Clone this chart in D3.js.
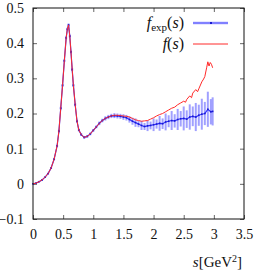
<!DOCTYPE html>
<html>
<head>
<meta charset="utf-8">
<script src="https://cdn.jsdelivr.net/npm/d3@7"></script>
<style>
  body { margin: 0; background: #fff; }
  svg { display: block; }
  text { font-family: "Liberation Serif", "DejaVu Serif", serif; fill: #111; }
</style>
</head>
<body>
<svg id="chart"></svg>
<script>
// experimental points f_exp(s) with errors
const sExp = [0, 0.05, 0.1, 0.15, 0.2, 0.25, 0.3, 0.35, 0.4, 0.43, 0.46, 0.49, 0.52, 0.55, 0.57, 0.59,
  0.61, 0.63, 0.65, 0.67, 0.7, 0.73, 0.76, 0.8, 0.85, 0.9, 0.95, 1.0, 1.05, 1.1, 1.15, 1.2, 1.25, 1.3,
  1.35, 1.4, 1.45, 1.5, 1.55, 1.6, 1.65, 1.7, 1.75, 1.8, 1.85, 1.9, 1.95, 2.0, 2.05, 2.1, 2.15, 2.2,
  2.25, 2.3, 2.35, 2.4, 2.45, 2.5, 2.55, 2.6, 2.65, 2.7, 2.75, 2.8, 2.85, 2.9, 2.95, 2.98];
const fExp = [0, 0.002, 0.006, 0.011, 0.019, 0.029, 0.045, 0.07, 0.108, 0.15, 0.215, 0.28, 0.35, 0.415, 0.44, 0.452,
  0.42, 0.375, 0.325, 0.28, 0.225, 0.178, 0.153, 0.14, 0.132, 0.135, 0.142, 0.152, 0.162, 0.172, 0.18, 0.186, 0.19, 0.193,
  0.194, 0.193, 0.192, 0.19, 0.188, 0.183, 0.178, 0.174, 0.17, 0.166, 0.163, 0.165, 0.166, 0.168, 0.17, 0.172, 0.171, 0.176,
  0.178, 0.18, 0.179, 0.183, 0.185, 0.186, 0.184, 0.19, 0.192, 0.19, 0.195, 0.198, 0.2, 0.212, 0.205, 0.206];
const errExp = [0.001, 0.001, 0.001, 0.002, 0.002, 0.002, 0.003, 0.003, 0.003, 0.004, 0.004, 0.004, 0.004, 0.004, 0.004, 0.004,
  0.004, 0.004, 0.004, 0.004, 0.004, 0.004, 0.004, 0.004, 0.004, 0.004, 0.004, 0.004, 0.004, 0.005, 0.005, 0.006, 0.006, 0.006,
  0.007, 0.007, 0.007, 0.008, 0.008, 0.009, 0.01, 0.012, 0.009, 0.013, 0.01, 0.015, 0.011, 0.018, 0.013, 0.021, 0.015, 0.024,
  0.017, 0.027, 0.019, 0.03, 0.022, 0.034, 0.025, 0.036, 0.028, 0.04, 0.03, 0.044, 0.033, 0.05, 0.036, 0.04];

// model curve f(s)
const sFit = [0, 0.05, 0.1, 0.15, 0.2, 0.25, 0.3, 0.35, 0.4, 0.43, 0.46, 0.49, 0.52, 0.55, 0.57, 0.59,
  0.61, 0.63, 0.65, 0.67, 0.7, 0.73, 0.76, 0.8, 0.85, 0.9, 0.95, 1.0, 1.05, 1.1, 1.15, 1.2, 1.25, 1.3,
  1.35, 1.4, 1.45, 1.5, 1.55, 1.6, 1.65, 1.7, 1.75, 1.8, 1.85, 1.9, 1.95, 2.0, 2.05, 2.1, 2.15, 2.2,
  2.25, 2.3, 2.35, 2.4, 2.45, 2.5, 2.53, 2.55, 2.6, 2.63, 2.65, 2.7, 2.73, 2.75, 2.8, 2.83, 2.85, 2.88,
  2.9, 2.92, 2.94, 2.96, 2.98];
const fFit = [0, 0.002, 0.006, 0.011, 0.019, 0.029, 0.045, 0.07, 0.108, 0.15, 0.215, 0.28, 0.35, 0.415, 0.44, 0.452,
  0.42, 0.375, 0.325, 0.28, 0.225, 0.178, 0.153, 0.14, 0.132, 0.135, 0.142, 0.152, 0.162, 0.172, 0.18, 0.186, 0.19, 0.193,
  0.195, 0.195, 0.194, 0.193, 0.192, 0.19, 0.186, 0.182, 0.18, 0.178, 0.179, 0.18, 0.184, 0.188, 0.193, 0.197, 0.2, 0.205,
  0.21, 0.215, 0.218, 0.225, 0.23, 0.235, 0.232, 0.24, 0.25, 0.245, 0.258, 0.268, 0.262, 0.27, 0.29, 0.298, 0.305, 0.33,
  0.347, 0.335, 0.345, 0.34, 0.33];

const xTicks = [0, 0.5, 1, 1.5, 2, 2.5, 3, 3.5];
const yTicks = [-0.1, 0, 0.1, 0.2, 0.3, 0.4, 0.5];

const width = 254;
const height = 272;
const marginLeft = 33;
const marginTop = 8;
const plotRight = 244;
const plotBottom = 219;

const svg = d3.select('#chart')
  .attr('width', width)
  .attr('height', height);

const x = d3.scaleLinear().domain([0, 3.5]).range([marginLeft, plotRight]);
const y = d3.scaleLinear().domain([-0.1, 0.5]).range([plotBottom, marginTop]);

const tickLen = 4;
const serif = '"Liberation Serif", "DejaVu Serif", serif';

// bottom + top ticks
svg.append('g')
  .attr('transform', `translate(0, ${plotBottom})`)
  .call(d3.axisBottom(x).tickValues(xTicks).tickSize(-tickLen).tickPadding(10).tickFormat(d3.format('')))
  .call(g => g.select('.domain').remove())
  .call(g => g.selectAll('line').attr('stroke', '#666'))
  .call(g => g.selectAll('text').attr('font-size', 14).attr('font-family', serif).attr('fill', '#111'));

svg.append('g')
  .attr('transform', `translate(0, ${marginTop})`)
  .call(d3.axisTop(x).tickValues(xTicks).tickSize(-tickLen).tickFormat(''))
  .call(g => g.select('.domain').remove())
  .call(g => g.selectAll('line').attr('stroke', '#666'));

// left + right ticks
svg.append('g')
  .attr('transform', `translate(${marginLeft}, 0)`)
  .call(d3.axisLeft(y).tickValues(yTicks).tickSize(-tickLen).tickPadding(9).tickFormat(d3.format('')))
  .call(g => g.select('.domain').remove())
  .call(g => g.selectAll('line').attr('stroke', '#666'))
  .call(g => g.selectAll('text').attr('font-size', 14).attr('font-family', serif).attr('fill', '#111'));

svg.append('g')
  .attr('transform', `translate(${plotRight}, 0)`)
  .call(d3.axisRight(y).tickValues(yTicks).tickSize(-tickLen).tickFormat(''))
  .call(g => g.select('.domain').remove())
  .call(g => g.selectAll('line').attr('stroke', '#666'));

// error bars
const expData = sExp.map((s, i) => ({ s, f: fExp[i], e: errExp[i] }));
svg.append('g')
  .attr('stroke', '#7878ff')
  .attr('stroke-opacity', 0.7)
  .attr('stroke-width', 2)
  .selectAll('line')
  .data(expData)
  .join('line')
  .attr('x1', d => x(d.s)).attr('x2', d => x(d.s))
  .attr('y1', d => y(d.f - d.e)).attr('y2', d => y(d.f + d.e));

// central line for f_exp
svg.append('path')
  .datum(expData)
  .attr('fill', 'none')
  .attr('stroke', '#3030ff')
  .attr('stroke-width', 1.2)
  .attr('d', d3.line().x(d => x(d.s)).y(d => y(d.f)));

svg.append('g')
  .attr('fill', '#1a1ad0')
  .selectAll('rect')
  .data(expData)
  .join('rect')
  .attr('x', d => x(d.s) - 0.8)
  .attr('y', d => y(d.f) - 0.8)
  .attr('width', 1.6)
  .attr('height', 1.6);

// model curve
const fitData = sFit.map((s, i) => ({ s, f: fFit[i] }));
svg.append('path')
  .datum(fitData)
  .attr('fill', 'none')
  .attr('stroke', '#ff2a2a')
  .attr('stroke-width', 1)
  .attr('d', d3.line().x(d => x(d.s)).y(d => y(d.f)));

// frame
svg.append('rect')
  .attr('x', marginLeft).attr('y', marginTop)
  .attr('width', plotRight - marginLeft).attr('height', plotBottom - marginTop)
  .attr('fill', 'none')
  .attr('stroke', '#111')
  .attr('stroke-width', 1);

// legend
const leg = svg.append('g').attr('font-size', 16);
const l1 = leg.append('text').attr('x', 184).attr('y', 28).attr('text-anchor', 'end');
l1.append('tspan').attr('font-style', 'italic').text('f');
l1.append('tspan').attr('font-size', 11).attr('dy', 3).text('exp');
l1.append('tspan').attr('dy', -3).text('(');
l1.append('tspan').attr('font-style', 'italic').text('s');
l1.append('tspan').text(')');

leg.append('line')
  .attr('x1', 193).attr('x2', 228).attr('y1', 23).attr('y2', 23)
  .attr('stroke', '#7878ff').attr('stroke-opacity', 0.7).attr('stroke-width', 2.5);
leg.append('line')
  .attr('x1', 193).attr('x2', 228).attr('y1', 23).attr('y2', 23)
  .attr('stroke', '#5050ff').attr('stroke-width', 0.8);
leg.append('rect')
  .attr('x', 210).attr('y', 22).attr('width', 2).attr('height', 2).attr('fill', '#1a1ad0');

const l2 = leg.append('text').attr('x', 184).attr('y', 49).attr('text-anchor', 'end');
l2.append('tspan').attr('font-style', 'italic').text('f');
l2.append('tspan').text('(');
l2.append('tspan').attr('font-style', 'italic').text('s');
l2.append('tspan').text(')');

leg.append('line')
  .attr('x1', 193).attr('x2', 228).attr('y1', 44).attr('y2', 44)
  .attr('stroke', '#ff2a2a').attr('stroke-width', 1);

// x axis title
const xt = svg.append('text')
  .attr('x', 242).attr('y', 267)
  .attr('text-anchor', 'end')
  .attr('font-size', 15);
xt.append('tspan').attr('font-style', 'italic').text('s');
xt.append('tspan').text('[GeV');
xt.append('tspan').attr('font-size', 10).attr('dy', -5).text('2');
xt.append('tspan').attr('dy', 5).text(']');
</script>
</body>
</html>
